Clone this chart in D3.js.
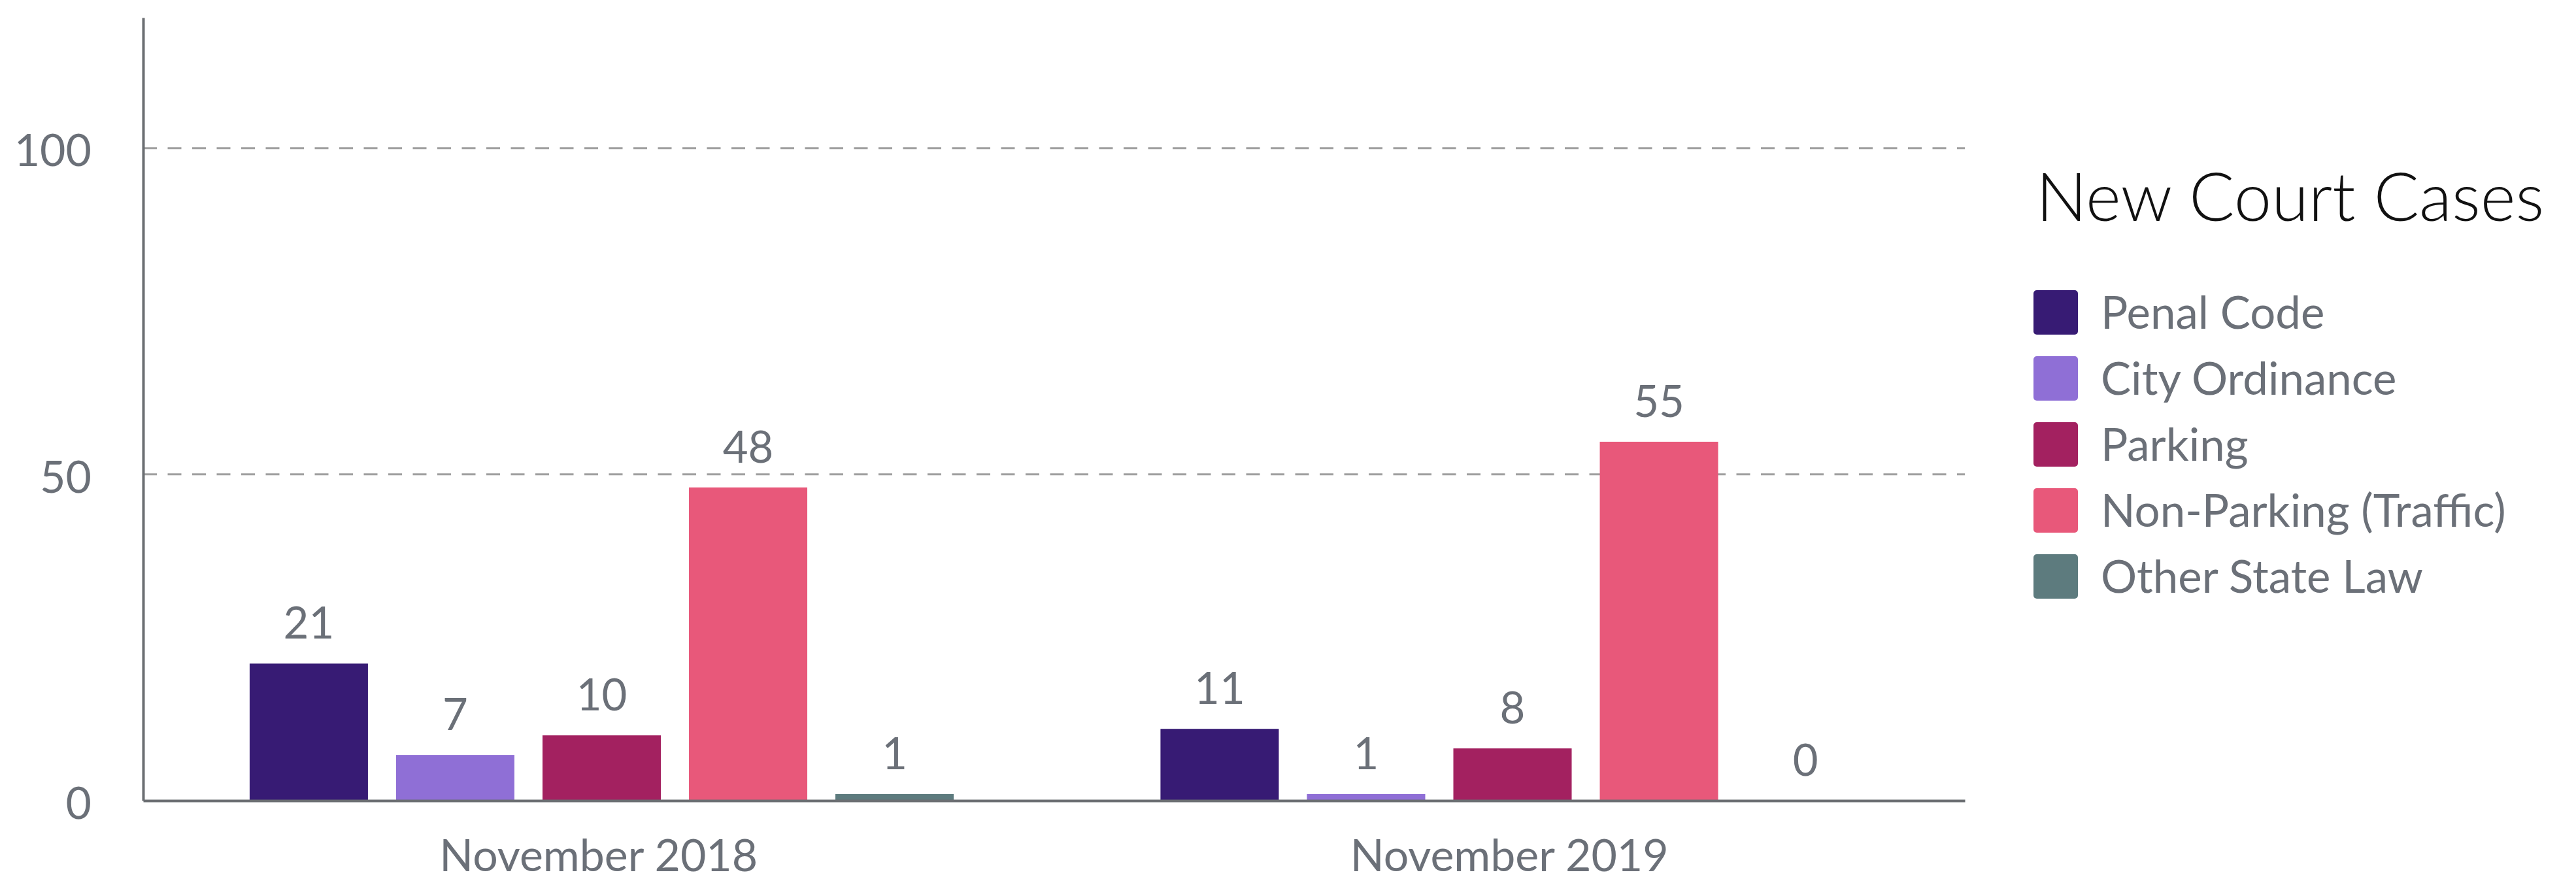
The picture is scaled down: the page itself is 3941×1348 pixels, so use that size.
<!DOCTYPE html>
<html>
<head>
<meta charset="utf-8">
<script src="https://cdn.jsdelivr.net/npm/d3@7"></script>
<style>
  html, body { margin: 0; padding: 0; background: #ffffff; }
  svg { display: block; }
</style>
</head>
<body>
<div id="chart"></div>
<script>
// ---- Data ----
const periods = ["November 2018", "November 2019"];
const categories = ["Penal Code", "City Ordinance", "Parking", "Non-Parking (Traffic)", "Other State Law"];
const values2018 = [21, 7, 10, 48, 1];
const values2019 = [11, 1, 8, 55, 0];
const seriesValues = [values2018, values2019];
const colors = ["#371b74", "#8f6fd6", "#a32160", "#e8587a", "#5d7b7e"];
const yTicks = [0, 50, 100];
const yMax = 120;
const legendTitle = "New Court Cases";

// ---- Layout ----
const W = 3941, H = 1348;
const plot = { left: 219, right: 3006, top: 27, bottom: 1225 };
const textColor = "#6b7078";
const axisColor = "#6b6e72";

const svg = d3.select("#chart").append("svg")
  .attr("width", W).attr("height", H)
  .attr("viewBox", `0 0 ${W} ${H}`);

svg.append("rect").attr("width", W).attr("height", H).attr("fill", "#fff");

const x0 = d3.scaleBand().domain(periods).range([plot.left, plot.right]).padding(0);
const x1 = d3.scaleBand().domain(categories).range([0, x0.bandwidth()])
  .paddingInner(0.192).paddingOuter(0.706).align(0.515);
const y = d3.scaleLinear().domain([0, yMax]).range([plot.bottom, plot.top]);

// gridlines
svg.append("g").selectAll("line")
  .data(yTicks.filter(d => d > 0))
  .join("line")
  .attr("x1", plot.left).attr("x2", plot.right)
  .attr("y1", d => y(d)).attr("y2", d => y(d))
  .attr("stroke", "#a0a0a0").attr("stroke-width", 3)
  .attr("stroke-dasharray", "21,16.5");

// y axis
const yAxis = d3.axisLeft(y).tickValues(yTicks).tickSize(0).tickPadding(79);
const gy = svg.append("g").attr("transform", `translate(${plot.left},0)`).call(yAxis);
gy.select(".domain").attr("stroke", axisColor).attr("stroke-width", 4);
gy.selectAll("text")
  .attr("fill", textColor)
  .attr("font-family", "Lato, 'Open Sans', sans-serif")
  .attr("font-size", 68)
  .attr("dy", "0.40em");

// bars
const groups = svg.append("g").selectAll("g")
  .data(periods)
  .join("g")
  .attr("transform", d => `translate(${x0(d)},0)`);

groups.selectAll("rect")
  .data((p, i) => categories.map((c, j) => ({ c, v: seriesValues[i][j], color: colors[j] })))
  .join("rect")
  .attr("x", d => x1(d.c))
  .attr("width", x1.bandwidth())
  .attr("y", d => y(d.v))
  .attr("height", d => y(0) - y(d.v))
  .attr("fill", d => d.color);

groups.selectAll("text")
  .data((p, i) => categories.map((c, j) => ({ c, v: seriesValues[i][j] })))
  .join("text")
  .attr("x", d => x1(d.c) + x1.bandwidth() / 2)
  .attr("y", d => y(d.v) - 38)
  .attr("text-anchor", "middle")
  .attr("fill", textColor)
  .attr("font-family", "Lato, 'Open Sans', sans-serif")
  .attr("font-size", 67)
  .text(d => d.v);

// x axis
const xAxis = d3.axisBottom(x0).tickSize(0);
const gx = svg.append("g").attr("transform", `translate(0,${plot.bottom})`).call(xAxis);
gx.select(".domain").attr("stroke", axisColor).attr("stroke-width", 4);
gx.selectAll("text")
  .attr("fill", textColor)
  .attr("font-family", "Lato, 'Open Sans', sans-serif")
  .attr("font-size", 68)
  .attr("y", 108)
  .attr("dy", 0);

// legend
const legend = svg.append("g");
legend.append("text")
  .attr("x", 3115).attr("y", 338)
  .attr("fill", "#111")
  .attr("font-family", "Lato, sans-serif")
  .attr("font-weight", 300)
  .attr("font-size", 103)
  .text(legendTitle);

const ly = d3.scaleBand().domain(categories).range([444, 444 + 101 * categories.length]).paddingInner(0);
const items = legend.selectAll("g.item")
  .data(categories)
  .join("g").attr("class", "item")
  .attr("transform", d => `translate(3111,${ly(d)})`);
items.append("rect")
  .attr("width", 68).attr("height", 68).attr("rx", 5)
  .attr("fill", (d, i) => colors[i]);
items.append("text")
  .attr("x", 103).attr("y", 34)
  .attr("dy", "0.36em")
  .attr("fill", textColor)
  .attr("font-family", "Lato, 'Open Sans', sans-serif")
  .attr("font-size", 69)
  .text(d => d);
</script>
</body>
</html>
